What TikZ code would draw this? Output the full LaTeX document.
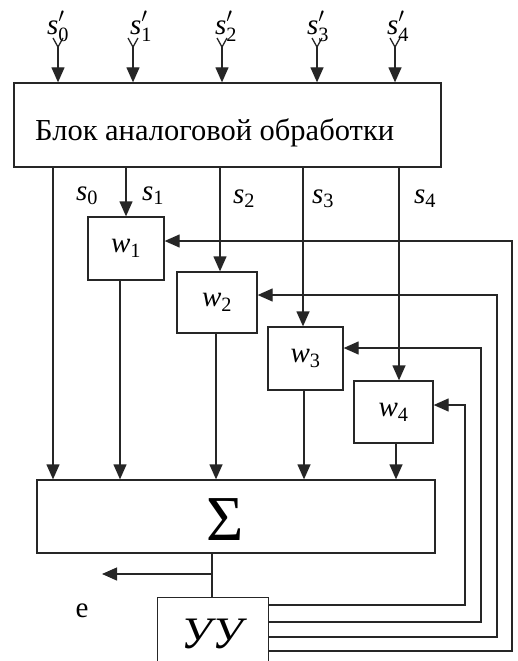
\documentclass[tikz,border=0pt]{standalone}
\usepackage{fontspec}
\setmainfont{Liberation Serif}
\usetikzlibrary{arrows.meta}
\newcommand{\slab}[2]{\textit{#1}\textsubscript{#2}}
\newcommand{\slabp}[2]{\textit{#1}\rlap{\raisebox{0.12em}{$^{\prime}$}}\raisebox{-0.06em}{\textsubscript{#2}}}
\begin{document}
\begin{tikzpicture}[x=1pt,y=-1pt,
  every node/.style={font=\fontsize{29}{33}\selectfont, inner sep=0pt},
  ln/.style={line width=1.3pt, draw=black!85},
  arr/.style={ln, -{Triangle[length=15pt,width=13pt]}},
  bx/.style={ln, rectangle, inner sep=0pt},
  ]
\useasboundingbox (0,0) rectangle (518,661);
\clip (0,0) rectangle (518,661);

% blocks
\node[bx, minimum width=427pt, minimum height=84pt] (blk) at (227.5,125) {};
\node[anchor=base west, font=\fontsize{30.5}{34}\selectfont] (blktext) at (35,140) {Блок аналоговой обработки};
\node[bx, minimum width=76pt, minimum height=63pt] (w1) at (126,248.5) {\slab{w}{1}};
\node[bx, minimum width=80pt, minimum height=61pt] (w2) at (217,302.5) {\slab{w}{2}};
\node[bx, minimum width=75pt, minimum height=63pt] (w3) at (305.5,358.5) {\slab{w}{3}};
\node[bx, minimum width=79pt, minimum height=62pt] (w4) at (393.5,412) {\slab{w}{4}};
\node[bx, minimum width=398pt, minimum height=73pt] (sum) at (236,516.5) {};
\node[font=\fontsize{64}{70}\selectfont] (sigma) at (225.5,520) {Σ};
\node[bx, minimum width=111pt, minimum height=100pt, anchor=north west] (uu) at (156.5,597) {};
\node[font=\fontsize{45}{50}\selectfont\itshape] (uutext) at (212,634) {УУ};

% input arrows with antenna marks
\foreach \n/\x/\lx/\t in {0/58/47/0,1/133/130/1,2/222/215/2,3/317/307/3,4/395/387/4}{
  \coordinate (i\n) at (\x,47);
  \draw[ln] (i\n) -- ++(-5,-9) (i\n) -- ++(5,-9);
  \draw[arr] (i\n) -- (i\n |- blk.north);
  \node[anchor=base west] (ip\n) at (\lx,35) {\slabp{s}{\t}};
}

% output lines
\coordinate (o0) at (53,0);
\coordinate (o1) at (126,0);
\coordinate (o2) at (220,0);
\coordinate (o3) at (303,0);
\coordinate (o4) at (399,0);
\draw[arr] (blk.south -| o0) -- (sum.north -| o0);
\draw[arr] (blk.south -| o1) -- (w1.north -| o1);
\draw[arr] (blk.south -| o2) -- (w2.north -| o2);
\draw[arr] (blk.south -| o3) -- (w3.north -| o3);
\draw[arr] (blk.south -| o4) -- (w4.north -| o4);

\node[anchor=base west] (l0) at (76,200) {\slab{s}{0}};
\node[anchor=base west] (l1) at (142,200) {\slab{s}{1}};
\node[anchor=base west] (l2) at (233,203) {\slab{s}{2}};
\node[anchor=base west] (l3) at (312,203) {\slab{s}{3}};
\node[anchor=base west] (l4) at (414,203) {\slab{s}{4}};

% weight outputs to sum
\coordinate (q1) at (120,0);
\coordinate (q2) at (216,0);
\coordinate (q3) at (304,0);
\coordinate (q4) at (396,0);
\draw[arr] (w1.south -| q1) -- (sum.north -| q1);
\draw[arr] (w2.south -| q2) -- (sum.north -| q2);
\draw[arr] (w3.south -| q3) -- (sum.north -| q3);
\draw[arr] (w4.south -| q4) -- (sum.north -| q4);

% sum output
\coordinate (so) at (212,0);
\draw[ln] (sum.south -| so) -- (uu.north -| so);
\coordinate (br) at (211,574);
\coordinate (bre) at (102,574);
\draw[arr] (br) -- (bre);
\node[anchor=base] (e) at (82,617) {e};

% feedback lines
\coordinate (r4a) at (465,605); \coordinate (r4b) at (465,405);
\coordinate (r3a) at (481,622); \coordinate (r3b) at (481,348);
\coordinate (r2a) at (497,637); \coordinate (r2b) at (497,295);
\coordinate (r1a) at (512,651); \coordinate (r1b) at (512,241);
\draw[arr] (uu.east |- r4a) -- (r4a) -- (r4b) -- (w4.east |- r4b);
\draw[arr] (uu.east |- r3a) -- (r3a) -- (r3b) -- (w3.east |- r3b);
\draw[arr] (uu.east |- r2a) -- (r2a) -- (r2b) -- (w2.east |- r2b);
\draw[arr] (uu.east |- r1a) -- (r1a) -- (r1b) -- (w1.east |- r1b);
\end{tikzpicture}
\end{document}
